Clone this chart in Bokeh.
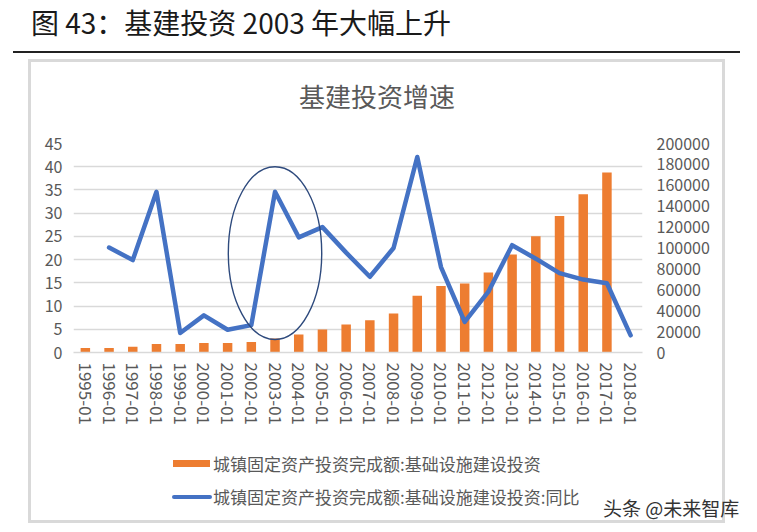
import math

from bokeh.embed import file_html
from bokeh.layouts import column
from bokeh.models import (BasicTickFormatter, CategoricalAxis, Div, FactorRange,
                          FixedTicker, Grid, LinearAxis, Range1d)
from bokeh.plotting import figure
from bokeh.resources import INLINE

# ---- data -----------------------------------------------------------------
years = [f"{y}-01" for y in range(1995, 2019)]

# 城镇固定资产投资完成额:基础设施建设投资 (亿元, right axis)
invest = [4200, 4300, 5400, 8200, 8200, 9200, 9200, 10100, 13400, 17200,
          22000, 26800, 30900, 37300, 54200, 63700, 66000, 76600, 93800,
          111300, 130700, 151500, 172300, math.nan]

# 同比 (%, left axis)
growth = [math.nan, 22.6, 19.9, 34.6, 4.2, 8.0, 4.9, 5.9, 34.6, 24.8, 27.0,
          21.5, 16.3, 22.5, 42.1, 18.4, 6.6, 13.1, 23.1, 20.2, 17.1, 15.7,
          14.9, 3.7]

left_ticks = list(range(0, 50, 5))
right_ticks = list(range(0, 220000, 20000))

# highlighted period around 2003
hl_center = "2003-01"
hl_mid, hl_span_x, hl_span_y = 21.4, 3.94, 37.2

title_text = "图 43：基建投资 2003 年大幅上升"
chart_title = "基建投资增速"
bar_name = "城镇固定资产投资完成额:基础设施建设投资"
line_name = "城镇固定资产投资完成额:基础设施建设投资:同比"
source_note = "头条 @未来智库"

# ---- styling --------------------------------------------------------------
CJK = "Noto Sans CJK SC"
GREY_TXT = "#595959"
GRID = "#d9d9d9"
ORANGE = "#ED7D31"
BLUE = "#4472C4"

# chart title strip, chart figure and legend strip share a grey bordered box
BOX_W, TTL_H, FIG_H, LEG_H = 691, 50, 328, 80

p = figure(width=BOX_W, height=FIG_H, x_range=FactorRange(*years), y_range=Range1d(0, 45),
           output_backend="svg", toolbar_location=None,
           x_axis_location=None, y_axis_location=None,
           min_border_left=42, min_border_right=80,
           min_border_top=31, min_border_bottom=88)
p.extra_y_ranges = {"amt": Range1d(0, 200000)}
p.outline_line_color = None
p.background_fill_color = "white"
p.border_fill_color = "white"
p.margin = 0
p.center = [r for r in p.center if not isinstance(r, Grid)]

p.add_layout(Grid(dimension=1, ticker=FixedTicker(ticks=left_ticks),
                  grid_line_color=GRID, grid_line_width=1.3))

# left axis (growth %)
ax_l = LinearAxis(ticker=FixedTicker(ticks=left_ticks))
# right axis (investment)
ax_r = LinearAxis(y_range_name="amt", ticker=FixedTicker(ticks=right_ticks),
                  formatter=BasicTickFormatter(use_scientific=False))
for ax, stand in ((ax_l, 11), (ax_r, 14)):
    ax.axis_line_color = None
    ax.major_tick_line_color = None
    ax.minor_tick_line_color = None
    ax.major_tick_out = 0
    ax.major_tick_in = 0
    ax.major_label_standoff = stand
    ax.major_label_text_font = CJK
    ax.major_label_text_font_size = "16px"
    ax.major_label_text_color = GREY_TXT
p.add_layout(ax_l, "left")
p.add_layout(ax_r, "right")

ax_x = CategoricalAxis()
ax_x.axis_line_color = GRID
ax_x.axis_line_width = 1.3
ax_x.major_tick_line_color = None
ax_x.major_tick_out = 0
ax_x.major_tick_in = 0
ax_x.major_label_orientation = "vertical"
ax_x.major_label_standoff = 10
ax_x.major_label_text_font = CJK
ax_x.major_label_text_font_size = "17px"
ax_x.major_label_text_color = GREY_TXT
p.add_layout(ax_x, "below")

# bars and line
p.vbar(x=years, top=invest, width=0.4, y_range_name="amt",
       fill_color=ORANGE, line_color=None)
p.line(x=years, y=growth, line_color=BLUE, line_width=4.5,
       line_join="round", line_cap="round")
p.ellipse(x=[hl_center], y=[hl_mid], width=hl_span_x, height=hl_span_y,
          fill_color=None, line_color="#2E4A7D", line_width=1.4)

# ---- page furniture ---------------------------------------------------------
FONT = f"font-family:'{CJK}';white-space:nowrap;position:absolute;"

header = Div(width=757, height=59, margin=0, text=(
    f"<div style='position:relative;width:757px;height:59px'>"
    f"<div style=\"{FONT}left:31px;top:5px;font-size:28px;line-height:34px;color:#1a1a1a\">{title_text}</div>"
    f"<div style='position:absolute;left:13px;top:51px;width:727px;height:2px;background:#222'></div>"
    f"</div>"))

chart_head = Div(width=BOX_W, height=TTL_H, margin=0, text=(
    f"<div style='position:relative;width:{BOX_W}px;height:{TTL_H}px'>"
    f"<div style=\"{FONT}left:268px;top:17px;font-size:26px;line-height:34px;color:{GREY_TXT}\">{chart_title}</div>"
    f"</div>"))

legend = Div(width=BOX_W, height=LEG_H, margin=0, text=(
    f"<div style='position:relative;width:{BOX_W}px;height:{LEG_H}px'>"
    f"<div style='position:absolute;left:142px;top:20px;width:37px;height:7px;background:{ORANGE}'></div>"
    f"<div style=\"{FONT}left:182px;top:13px;font-size:17px;line-height:22px;color:{GREY_TXT}\">{bar_name}</div>"
    f"<div style='position:absolute;left:141px;top:55px;width:40px;height:4px;border-radius:2px;background:{BLUE}'></div>"
    f"<div style=\"{FONT}left:182px;top:46px;font-size:17px;line-height:22px;color:{GREY_TXT}\">{line_name}</div>"
    f"<div style=\"{FONT}left:572px;top:56px;font-size:19px;line-height:24px;color:#333\">{source_note}</div>"
    f"</div>"))

footer = Div(width=757, height=9, margin=0, text=(
    "<div style='position:relative;width:757px;height:9px'>"
    "<div style='position:absolute;left:13px;top:7px;width:727px;height:2px;background:#222'></div>"
    "</div>"))

box = column(chart_head, p, legend, margin=(0, 0, 0, 28), spacing=0,
             styles={"border": f"3px solid {GRID}", "background": "white"})

page = column(header, box, footer, margin=0, spacing=0)

open("out.html", "w").write(file_html(page, INLINE))
